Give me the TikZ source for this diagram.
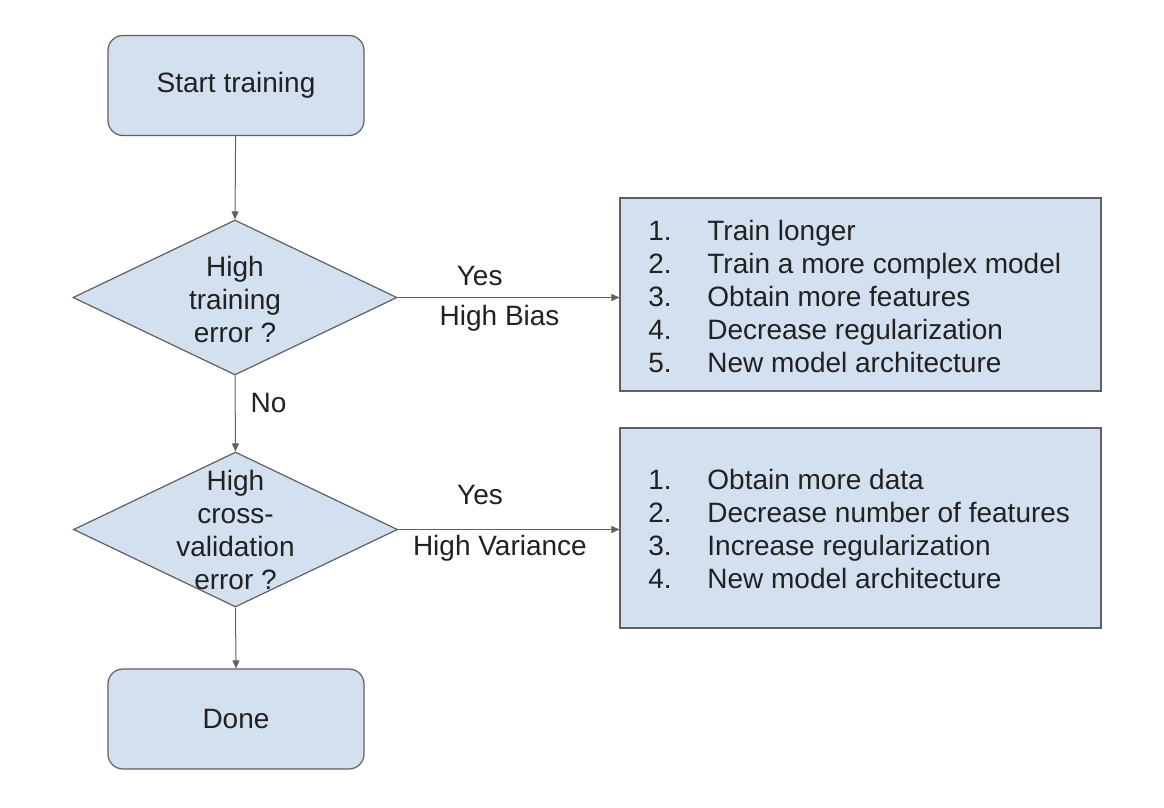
\documentclass[tikz,border=0pt]{standalone}
\usepackage{fontspec}
\setmainfont{Liberation Sans}
\usepackage{tikz}
\usetikzlibrary{shapes.geometric}
\usetikzlibrary{arrows.meta}

\definecolor{boxfill}{RGB}{211,224,240}
\definecolor{boxline}{RGB}{96,96,96}
\definecolor{inktext}{RGB}{33,33,33}

\newcommand{\fixitem}[2]{\makebox[29.5pt][l]{#1}#2}

\begin{document}
\begin{tikzpicture}[x=0.5pt,y=-0.5pt,
    font=\fontsize{14}{16.5}\selectfont, text=inktext,
    endbox/.style={draw=boxline,fill=boxfill,rounded corners=7.5pt,line width=0.6pt,
        minimum width=128pt,minimum height=50pt},
    question/.style={draw=boxline,fill=boxfill,diamond,inner sep=0pt,line width=0.6pt,
        minimum width=162pt,minimum height=77.5pt},
    fixbox/.style={draw=boxline,fill=boxfill,line width=0.6pt,minimum width=240.5pt},
    flow/.style={draw=boxline,line width=0.5pt,-{Triangle[length=4pt,width=3.5pt]}}]
\useasboundingbox (0,0) rectangle (1164,808);

\node[endbox] at (236,85.5) (start) {Start training};

\node[question] at (235,297.5) (err1) {};
\node[align=center] at (235,299) (err1 text) {High\\training\\error ?};

\node[question] at (235.5,529.5) (err2) {};
\node[align=center] at (235.5,530) (err2 text) {High\\cross-\\validation\\error ?};

\node[endbox] at (236,719) (done) {Done};

\node[fixbox,minimum height=96.5pt] at (860.5,294.5) (bias) {};
\node[align=left,anchor=west,inner sep=0pt] at (648,296) (bias list) {\fixitem{1.}{Train longer}\\
    \fixitem{2.}{Train a more complex model}\\
    \fixitem{3.}{Obtain more features}\\
    \fixitem{4.}{Decrease regularization}\\
    \fixitem{5.}{New model architecture}};

\node[fixbox,minimum height=100pt] at (860.5,528) (variance) {};
\node[align=left,anchor=west,inner sep=0pt] at (648,529) (variance list) {\fixitem{1.}{Obtain more data}\\
    \fixitem{2.}{Decrease number of features}\\
    \fixitem{3.}{Increase regularization}\\
    \fixitem{4.}{New model architecture}};

\draw[flow] (start) -- (err1.north);
\draw[flow] (err1.east) -- (bias.west |- err1.east)
    node[pos=.37,yshift=10.5pt] (yes1) {Yes}
    node[pos=.46,yshift=-10.5pt] (bias label) {High Bias};
\draw[flow] (err1.south) -- (err2.north)
    node[pos=.36,right,inner sep=0pt,xshift=7.5pt] (no1) {No};
\draw[flow] (err2.east) -- (variance.west |- err2.east)
    node[pos=.37,yshift=17pt] (yes2) {Yes}
    node[pos=.46,yshift=-9.5pt] (variance label) {High Variance};
\draw[flow] (err2.south) -- (done.north);
\end{tikzpicture}
\end{document}
